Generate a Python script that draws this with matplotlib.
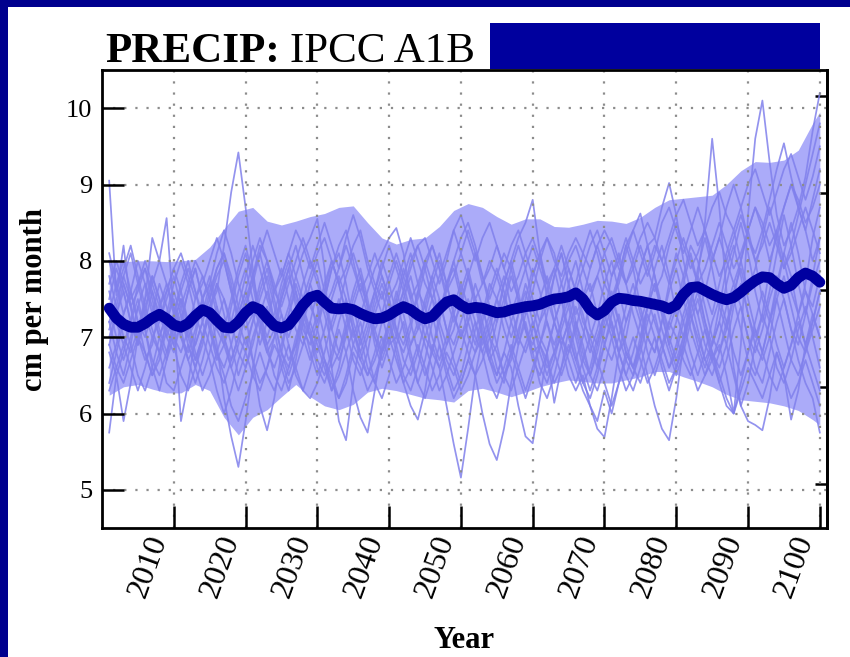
import numpy as np
import matplotlib
matplotlib.use("Agg")
import matplotlib.pyplot as plt
from matplotlib.patches import Rectangle
from matplotlib import transforms

plt.rcParams["font.family"] = ["Liberation Serif", "DejaVu Serif"]

# ---------------- data ----------------
years = np.arange(2001, 2101)

ensemble_mean = [
    7.38, 7.25, 7.17, 7.13, 7.13, 7.18, 7.25, 7.30, 7.24, 7.16,
    7.13, 7.18, 7.28, 7.36, 7.32, 7.22, 7.13, 7.12, 7.20, 7.32,
    7.40, 7.36, 7.25, 7.15, 7.12, 7.16, 7.28, 7.42, 7.52, 7.55,
    7.46, 7.38, 7.37, 7.38, 7.36, 7.31, 7.27, 7.24, 7.25, 7.29,
    7.35, 7.40, 7.36, 7.29, 7.24, 7.27, 7.37, 7.46, 7.49, 7.42,
    7.37, 7.39, 7.38, 7.35, 7.32, 7.33, 7.36, 7.38, 7.40, 7.41,
    7.43, 7.47, 7.50, 7.51, 7.53, 7.58, 7.50, 7.36, 7.29, 7.35,
    7.46, 7.51, 7.50, 7.48, 7.47, 7.45, 7.43, 7.41, 7.37, 7.42,
    7.56, 7.65, 7.66, 7.61, 7.56, 7.52, 7.49, 7.52, 7.59, 7.67,
    7.74, 7.79, 7.78, 7.70, 7.64, 7.68, 7.78, 7.84, 7.80, 7.72,
]

band_years = list(range(2001, 2100, 2)) + [2100]
band_upper = [
    7.98, 7.99, 8.00, 8.00, 7.99, 8.00, 8.02, 8.18, 8.42, 8.65,
    8.70, 8.52, 8.47, 8.52, 8.58, 8.62, 8.70, 8.72, 8.50, 8.30,
    8.22, 8.28, 8.30, 8.45, 8.66, 8.75, 8.70, 8.58, 8.48, 8.55,
    8.55, 8.45, 8.44, 8.48, 8.53, 8.52, 8.49, 8.57, 8.70, 8.80,
    8.82, 8.84, 8.86, 9.00, 9.18, 9.30, 9.29, 9.32, 9.45, 9.80,
    9.95,
]
band_lower = [
    6.24, 6.35, 6.38, 6.32, 6.27, 6.27, 6.38, 6.30, 5.95, 5.72,
    5.95, 6.05, 6.22, 6.38, 6.22, 6.10, 6.05, 6.12, 6.28, 6.33,
    6.30, 6.25, 6.20, 6.18, 6.15, 6.30, 6.33, 6.28, 6.22, 6.28,
    6.35, 6.40, 6.44, 6.42, 6.40, 6.40, 6.44, 6.48, 6.55, 6.55,
    6.48, 6.42, 6.35, 6.25, 6.18, 6.16, 6.14, 6.10, 6.04, 5.92,
    5.85,
]

member_01 = [
    9.05, 7.55, 8.20, 7.40, 6.90, 7.30, 7.80, 7.50, 7.00, 6.80,
    7.20, 7.60, 7.90, 7.50, 7.10, 6.70, 6.90, 7.40, 7.80, 8.10,
    7.70, 7.20, 6.90, 7.10, 7.60, 7.90, 7.40, 7.00, 6.70, 7.10,
    7.50, 7.90, 8.10, 7.70, 7.20, 6.90, 7.20, 7.60, 7.30, 6.90,
    7.00, 7.50, 7.80, 7.40, 7.00, 6.80, 7.20, 7.70, 8.00, 7.60,
    7.20, 6.90, 7.30, 7.70, 7.50, 7.10, 6.80, 7.00, 7.50, 7.90,
    7.60, 7.20, 6.90, 7.20, 7.70, 8.00, 7.60, 7.10, 6.90, 7.30,
    7.80, 8.10, 7.70, 7.30, 7.00, 7.40, 7.90, 8.20, 7.80, 7.30,
    7.00, 7.40, 7.90, 8.30, 7.90, 7.40, 7.10, 7.50, 8.00, 8.40,
    8.00, 7.50, 7.20, 7.60, 8.10, 8.50, 8.10, 7.60, 7.40, 7.80,
]
member_02 = [
    5.75, 6.50, 5.90, 6.40, 7.00, 7.40, 7.10, 6.80, 7.20, 7.60,
    7.30, 6.90, 6.60, 6.90, 7.40, 7.70, 7.30, 6.90, 6.50, 6.80,
    7.20, 7.50, 7.80, 7.40, 7.00, 6.70, 6.90, 7.30, 7.70, 7.40,
    7.00, 6.60, 6.80, 7.20, 7.60, 7.90, 7.50, 7.00, 6.70, 7.00,
    7.40, 7.80, 8.10, 7.70, 7.20, 6.80, 6.60, 6.90, 7.30, 7.60,
    7.90, 7.50, 7.00, 6.70, 6.90, 7.40, 7.80, 7.50, 7.10, 6.80,
    6.90, 7.30, 7.80, 8.10, 7.70, 7.20, 6.80, 6.50, 6.80, 7.20,
    7.50, 7.20, 6.80, 6.60, 6.90, 7.40, 7.70, 7.40, 7.00, 6.70,
    7.00, 7.50, 7.80, 7.40, 7.00, 6.80, 7.10, 7.60, 7.90, 7.50,
    7.10, 6.80, 7.20, 7.70, 8.10, 7.80, 7.30, 6.90, 7.20, 7.60,
]
member_03 = [
    7.00, 7.30, 7.60, 7.20, 6.90, 7.50, 8.30, 8.00, 8.56, 7.30,
    5.90, 6.40, 7.00, 7.50, 7.80, 7.40, 7.00, 6.70, 7.00, 7.40,
    7.80, 8.10, 7.70, 7.20, 6.80, 6.50, 6.80, 7.30, 7.70, 8.00,
    7.60, 7.10, 6.80, 7.10, 7.50, 7.80, 7.40, 6.90, 6.60, 6.90,
    7.30, 7.60, 7.20, 6.80, 6.50, 6.80, 7.30, 7.70, 7.90, 7.50,
    7.00, 6.80, 7.20, 7.60, 7.90, 7.60, 7.20, 6.90, 7.30, 7.80,
    8.10, 7.70, 7.20, 6.90, 7.20, 7.60, 7.30, 6.90, 6.60, 6.90,
    7.30, 7.80, 8.20, 7.90, 7.40, 7.00, 6.80, 7.20, 7.70, 8.10,
    7.80, 7.30, 6.90, 6.60, 6.90, 7.40, 7.90, 8.20, 7.80, 7.30,
    7.00, 7.30, 7.90, 8.40, 8.00, 7.60, 7.30, 7.70, 8.30, 8.70,
]
member_04 = [
    7.60, 7.20, 6.90, 7.20, 7.70, 7.90, 7.50, 7.10, 6.80, 7.10,
    7.40, 7.00, 6.70, 7.00, 7.40, 7.60, 8.20, 8.90, 9.42, 8.70,
    7.90, 7.20, 6.80, 7.00, 7.50, 7.80, 7.50, 7.10, 6.90, 7.20,
    7.60, 8.00, 7.70, 7.30, 6.90, 6.70, 7.00, 7.40, 7.70, 7.40,
    7.00, 6.80, 7.10, 7.60, 8.00, 7.70, 7.20, 6.90, 7.10, 7.50,
    7.80, 7.40, 7.00, 6.80, 7.20, 7.70, 8.00, 7.60, 7.10, 6.90,
    7.20, 7.60, 7.90, 7.50, 7.00, 6.70, 7.00, 7.50, 7.80, 7.50,
    7.10, 6.80, 7.00, 7.50, 7.90, 8.20, 7.80, 7.30, 6.90, 7.20,
    7.70, 8.10, 7.70, 7.20, 6.90, 7.20, 7.70, 8.10, 8.50, 8.10,
    7.60, 7.20, 7.60, 8.10, 8.60, 8.20, 7.70, 7.30, 7.80, 8.30,
]
member_05 = [
    7.20, 6.80, 6.50, 6.90, 7.40, 7.10, 6.60, 6.30, 6.70, 7.20,
    7.50, 7.10, 6.70, 7.00, 7.40, 6.90, 6.20, 5.70, 5.30, 5.90,
    6.60, 7.10, 7.40, 7.10, 6.60, 6.30, 6.70, 7.20, 7.50, 7.10,
    6.70, 6.30, 6.60, 7.10, 7.40, 7.00, 6.60, 6.40, 6.80, 7.20,
    7.50, 7.10, 6.70, 6.40, 6.70, 7.20, 7.50, 7.10, 6.70, 6.40,
    6.70, 7.10, 7.40, 7.00, 6.60, 6.40, 6.80, 7.30, 7.60, 7.20,
    6.80, 6.50, 6.80, 7.20, 7.50, 7.10, 6.70, 6.50, 6.90, 7.30,
    7.60, 7.20, 6.80, 6.60, 7.00, 7.40, 7.70, 7.30, 6.90, 6.60,
    6.90, 7.30, 7.60, 7.20, 6.80, 6.60, 6.90, 7.40, 7.70, 7.30,
    6.90, 6.70, 7.00, 7.50, 7.80, 7.40, 7.00, 6.80, 7.20, 7.60,
]
member_06 = [
    6.90, 7.30, 7.70, 7.40, 7.00, 6.70, 6.90, 7.40, 7.70, 7.40,
    7.00, 6.80, 7.10, 7.50, 7.70, 7.30, 6.90, 6.60, 6.90, 7.30,
    6.70, 6.10, 5.78, 6.20, 6.80, 7.30, 7.60, 7.20, 6.80, 6.50,
    6.80, 7.20, 7.50, 7.10, 6.70, 6.50, 6.80, 7.30, 7.60, 7.20,
    6.80, 6.40, 6.10, 5.92, 6.30, 6.90, 6.60, 6.10, 5.60, 5.16,
    5.80, 6.50, 7.00, 7.30, 6.90, 6.50, 6.70, 7.10, 7.40, 7.00,
    6.60, 6.40, 6.70, 7.10, 7.40, 7.00, 6.60, 6.30, 6.60, 7.10,
    7.40, 7.00, 6.70, 6.50, 6.80, 7.20, 7.50, 7.10, 6.80, 6.50,
    6.80, 7.20, 7.50, 7.10, 6.70, 6.40, 6.70, 7.10, 7.40, 7.00,
    6.60, 6.40, 6.80, 7.20, 7.50, 7.10, 6.70, 6.40, 6.20, 5.75,
]
member_07 = [
    7.50, 7.90, 7.60, 7.20, 6.90, 7.20, 7.60, 7.30, 7.00, 7.30,
    7.70, 8.00, 7.60, 7.20, 7.50, 7.90, 8.10, 7.70, 7.20, 6.90,
    7.20, 7.60, 7.90, 7.50, 7.10, 7.40, 7.80, 8.10, 8.30, 8.55,
    7.90, 6.60, 5.90, 5.65, 6.40, 7.00, 7.40, 7.10, 6.80, 7.10,
    7.50, 7.90, 7.60, 7.20, 7.40, 7.80, 8.10, 7.70, 7.30, 7.00,
    7.30, 7.70, 7.40, 7.00, 7.30, 7.70, 8.00, 8.30, 8.50, 8.80,
    8.10, 7.50, 7.20, 7.50, 7.90, 7.60, 7.20, 7.00, 7.30, 7.70,
    8.00, 7.60, 7.20, 7.50, 7.90, 8.20, 7.80, 7.40, 7.10, 7.40,
    7.80, 8.20, 8.00, 7.60, 7.30, 7.70, 8.10, 8.40, 8.00, 7.60,
    7.90, 8.30, 8.70, 8.30, 7.90, 8.20, 8.60, 9.00, 9.40, 9.80,
]
member_08 = [
    6.60, 6.90, 7.30, 7.60, 7.20, 6.80, 6.50, 6.80, 7.20, 7.50,
    7.10, 6.70, 6.40, 6.70, 7.10, 7.40, 7.00, 6.60, 6.30, 6.60,
    7.00, 7.30, 6.90, 6.50, 6.30, 6.60, 7.00, 7.30, 7.00, 6.60,
    6.40, 6.70, 7.10, 6.80, 6.30, 5.95, 5.75, 6.30, 6.90, 7.20,
    6.90, 6.50, 6.30, 6.60, 7.00, 7.30, 6.90, 6.50, 6.20, 6.40,
    6.70, 6.50, 6.00, 5.60, 5.39, 5.80, 6.40, 6.90, 7.20, 6.80,
    6.40, 6.20, 6.50, 6.90, 7.20, 6.80, 6.40, 6.20, 6.50, 6.90,
    7.20, 6.80, 6.50, 6.30, 6.60, 7.00, 7.30, 6.90, 6.60, 6.80,
    7.20, 7.50, 7.10, 6.70, 6.50, 6.80, 7.20, 7.50, 7.10, 6.70,
    6.50, 6.80, 7.20, 7.50, 7.10, 6.70, 6.50, 6.80, 7.10, 7.40,
]
member_09 = [
    7.80, 7.40, 7.00, 6.80, 7.10, 7.50, 7.80, 7.50, 7.10, 6.90,
    7.20, 7.60, 7.90, 7.50, 7.10, 6.80, 7.10, 7.50, 7.90, 8.20,
    7.80, 7.30, 7.00, 7.30, 7.70, 8.00, 7.60, 7.20, 7.00, 7.30,
    7.70, 8.00, 7.70, 7.30, 7.00, 7.30, 7.60, 7.90, 8.10, 8.30,
    8.43, 8.10, 7.50, 7.10, 7.30, 7.70, 8.00, 7.70, 7.30, 7.00,
    7.20, 7.50, 7.20, 6.80, 6.50, 6.80, 6.60, 6.10, 5.70, 5.61,
    6.20, 6.80, 7.20, 6.90, 6.50, 6.30, 6.50, 6.10, 5.80, 5.69,
    6.20, 6.80, 7.20, 7.50, 7.20, 6.80, 6.50, 6.80, 7.20, 7.50,
    7.20, 6.80, 6.50, 6.80, 7.20, 7.50, 7.20, 6.80, 6.50, 6.80,
    7.20, 7.60, 7.30, 6.90, 6.60, 6.90, 7.30, 7.60, 7.30, 7.00,
]
member_10 = [
    7.10, 7.40, 7.80, 8.10, 7.70, 7.30, 7.00, 7.20, 7.60, 7.90,
    7.60, 7.20, 6.90, 7.20, 7.60, 7.90, 8.10, 7.80, 7.40, 7.10,
    7.30, 7.70, 8.00, 7.70, 7.30, 7.00, 7.30, 7.70, 8.00, 7.80,
    7.40, 7.10, 7.40, 7.80, 8.10, 7.80, 7.40, 7.10, 7.30, 7.70,
    8.00, 7.70, 7.30, 7.50, 7.90, 8.20, 7.90, 7.50, 7.20, 7.40,
    7.80, 8.10, 7.80, 7.40, 7.20, 7.50, 7.90, 8.20, 7.90, 7.50,
    7.20, 7.40, 7.80, 8.10, 7.70, 7.30, 7.50, 7.90, 8.20, 7.90,
    7.50, 7.70, 8.10, 8.40, 8.62, 8.20, 8.30, 8.70, 9.02, 8.60,
    8.00, 7.60, 7.30, 7.60, 8.00, 8.30, 8.00, 7.70, 8.00, 8.40,
    8.70, 8.40, 8.00, 8.30, 8.70, 9.00, 8.70, 8.40, 8.80, 9.20,
]
member_11 = [
    6.80, 6.50, 6.80, 7.20, 7.50, 7.10, 6.70, 6.50, 6.80, 7.20,
    7.50, 7.20, 6.80, 6.50, 6.80, 7.20, 7.50, 7.20, 6.80, 6.60,
    6.90, 7.30, 7.60, 7.20, 6.80, 6.60, 6.90, 7.40, 7.10, 6.70,
    6.50, 6.80, 7.20, 7.50, 7.10, 6.70, 6.50, 6.80, 7.20, 7.50,
    7.10, 6.70, 6.50, 6.80, 7.20, 7.50, 7.10, 6.70, 6.50, 6.80,
    7.20, 7.50, 7.10, 6.70, 6.50, 6.80, 7.20, 7.50, 7.10, 6.70,
    6.50, 6.80, 7.20, 7.50, 7.10, 6.70, 6.40, 6.60, 7.00, 7.30,
    7.00, 6.60, 6.30, 6.50, 6.90, 6.50, 6.10, 5.80, 5.65, 6.20,
    6.90, 7.40, 7.80, 8.50, 9.60, 8.70, 7.60, 6.60, 6.10, 6.40,
    6.90, 7.30, 7.00, 6.60, 6.40, 6.70, 7.10, 7.40, 7.00, 6.60,
]
member_12 = [
    7.30, 7.70, 8.00, 7.60, 7.20, 7.00, 7.30, 7.70, 7.40, 7.00,
    6.80, 7.10, 7.50, 7.80, 7.50, 7.10, 6.90, 7.20, 7.60, 7.90,
    7.50, 7.10, 6.80, 6.60, 6.90, 7.30, 7.70, 7.40, 7.00, 6.80,
    7.10, 7.50, 7.80, 7.50, 7.10, 6.80, 7.10, 7.50, 7.80, 7.50,
    7.10, 6.90, 7.20, 7.60, 7.40, 7.00, 6.70, 7.00, 7.40, 7.70,
    7.40, 7.00, 6.80, 7.10, 7.50, 7.80, 7.40, 7.00, 6.80, 7.10,
    7.50, 7.80, 7.40, 7.00, 6.80, 7.10, 7.50, 7.70, 7.30, 6.90,
    6.70, 7.00, 7.40, 7.70, 7.30, 7.00, 6.80, 7.20, 7.60, 7.90,
    7.50, 7.10, 6.80, 6.50, 6.70, 6.90, 6.50, 6.00, 6.90, 8.60,
    9.60, 10.10, 9.30, 8.60, 8.20, 8.40, 8.70, 8.40, 8.00, 8.30,
]
member_13 = [
    6.40, 6.80, 7.20, 6.90, 6.50, 6.30, 6.60, 7.00, 7.30, 6.90,
    6.50, 6.30, 6.60, 7.00, 6.70, 6.30, 6.00, 6.30, 6.70, 7.00,
    6.70, 6.40, 6.60, 7.00, 7.30, 6.90, 6.50, 6.30, 6.60, 7.00,
    6.70, 6.40, 6.20, 6.50, 6.90, 7.20, 6.80, 6.40, 6.20, 6.50,
    6.90, 7.20, 6.80, 6.40, 6.20, 6.50, 6.90, 6.60, 6.30, 6.50,
    6.90, 7.20, 6.80, 6.40, 6.20, 6.50, 6.80, 6.50, 6.20, 6.50,
    6.90, 7.20, 6.80, 6.50, 6.80, 7.20, 6.90, 6.50, 6.30, 6.60,
    7.00, 7.30, 6.90, 6.60, 6.90, 7.30, 7.00, 6.60, 6.30, 6.60,
    7.00, 7.30, 7.00, 6.70, 6.90, 7.20, 6.90, 6.50, 6.10, 5.90,
    5.85, 5.78, 6.20, 6.80, 6.50, 5.92, 6.30, 6.90, 7.30, 7.00,
]
member_14 = [
    8.10, 7.70, 7.30, 7.60, 8.00, 7.70, 7.30, 7.00, 7.30, 7.70,
    8.00, 7.70, 7.30, 7.00, 7.30, 7.70, 7.50, 7.10, 7.40, 7.80,
    8.20, 7.90, 7.50, 7.20, 7.50, 7.90, 8.20, 7.80, 7.40, 7.20,
    7.50, 7.90, 8.20, 8.40, 8.00, 7.60, 7.30, 7.60, 8.00, 7.70,
    7.30, 7.60, 8.00, 8.20, 7.90, 7.50, 7.30, 7.60, 8.00, 8.30,
    8.50, 8.20, 7.80, 7.50, 7.80, 8.10, 7.90, 7.50, 7.30, 7.60,
    8.00, 8.30, 8.10, 7.70, 7.40, 7.70, 8.10, 8.40, 8.10, 7.70,
    7.50, 7.80, 8.20, 8.40, 8.10, 7.80, 8.10, 8.50, 8.70, 8.40,
    8.10, 8.40, 8.70, 8.40, 8.00, 8.30, 8.70, 9.00, 8.70, 8.30,
    8.10, 8.40, 8.80, 9.20, 9.54, 9.10, 8.70, 9.10, 9.70, 10.20,
]
member_15 = [
    7.40, 7.00, 6.70, 7.00, 7.40, 7.70, 7.40, 7.00, 6.70, 7.00,
    7.30, 7.00, 7.20, 7.50, 7.20, 6.80, 6.60, 6.90, 7.30, 7.60,
    7.30, 6.90, 7.20, 7.60, 7.90, 7.50, 7.10, 6.90, 7.20, 7.60,
    7.30, 6.90, 6.70, 7.00, 7.40, 7.70, 7.40, 7.00, 6.80, 7.20,
    7.60, 7.30, 6.90, 7.10, 7.50, 7.80, 7.50, 7.10, 6.90, 7.20,
    7.50, 7.20, 6.90, 7.20, 7.50, 7.30, 7.00, 7.30, 7.70, 7.40,
    7.00, 6.80, 6.14, 6.60, 7.10, 7.40, 7.10, 6.80, 7.10, 7.50,
    7.20, 6.80, 6.50, 6.80, 7.20, 7.50, 7.20, 6.90, 6.60, 6.90,
    7.30, 7.60, 7.30, 6.90, 6.70, 7.00, 7.40, 7.70, 7.40, 7.00,
    6.80, 7.10, 7.50, 7.80, 7.50, 7.10, 6.90, 7.30, 7.70, 8.00,
]
member_16 = [
    7.70, 8.00, 7.70, 7.40, 7.60, 7.90, 7.60, 7.20, 7.50, 7.80,
    7.40, 7.70, 8.00, 7.80, 7.50, 7.80, 8.00, 7.60, 7.20, 7.50,
    7.80, 8.20, 8.00, 7.60, 7.80, 8.10, 7.80, 7.50, 7.80, 8.10,
    8.30, 8.00, 7.70, 7.90, 8.20, 8.40, 8.00, 7.70, 7.50, 7.80,
    8.10, 7.80, 7.50, 7.70, 8.00, 8.20, 7.90, 7.60, 7.80, 8.10,
    8.40, 8.10, 7.70, 7.90, 8.20, 7.90, 7.60, 7.80, 8.10, 8.30,
    8.00, 7.70, 7.90, 8.20, 7.90, 7.60, 7.90, 8.20, 8.40, 8.10,
    7.80, 8.00, 8.30, 8.00, 7.70, 7.90, 8.20, 8.00, 7.70, 8.00,
    8.30, 8.00, 7.70, 7.90, 8.20, 8.50, 8.20, 7.90, 8.10, 8.40,
    8.70, 8.50, 8.20, 8.40, 8.70, 9.00, 8.80, 8.50, 8.70, 9.00,
]
member_17 = [
    8.00, 7.60, 7.90, 8.20, 7.80, 7.40, 7.70, 8.00, 7.70, 7.30,
    7.60, 7.90, 7.60, 7.30, 7.70, 8.10, 8.40, 8.10, 7.70, 7.40,
    7.70, 8.10, 8.40, 8.10, 7.80, 8.10, 8.40, 8.20, 7.90, 8.20,
    8.50, 8.20, 7.90, 8.30, 8.60, 8.30, 7.90, 7.60, 7.90, 8.20,
    7.90, 7.60, 7.90, 8.20, 8.30, 8.00, 7.70, 8.00, 8.40, 8.60,
    8.30, 8.00, 8.30, 8.50, 8.20, 7.90, 8.20, 8.40, 8.10, 7.80,
    8.10, 8.30, 8.00, 7.80, 8.10, 8.30, 8.10, 7.90, 8.20, 8.40,
    8.20, 7.90, 7.70, 8.00, 8.30, 8.50, 8.30, 8.00, 8.30, 8.60,
    8.80, 8.50, 8.20, 8.40, 8.70, 8.90, 8.60, 8.40, 8.70, 9.00,
    9.20, 8.90, 8.60, 8.90, 9.20, 9.40, 9.10, 8.80, 9.10, 9.50,
]
member_18 = [
    6.30, 6.60, 6.90, 6.60, 6.30, 6.60, 7.00, 6.80, 6.40, 6.30,
    6.60, 6.90, 6.60, 6.30, 6.50, 6.80, 6.50, 6.10, 5.90, 6.20,
    6.50, 6.80, 6.50, 6.30, 6.60, 6.90, 6.60, 6.30, 6.20, 6.40,
    6.70, 6.50, 6.20, 6.40, 6.80, 6.60, 6.30, 6.50, 6.80, 7.00,
    6.70, 6.40, 6.60, 6.90, 6.60, 6.30, 6.50, 6.80, 6.60, 6.30,
    6.50, 6.80, 7.00, 6.70, 6.40, 6.60, 6.90, 6.60, 6.30, 6.60,
    6.90, 6.70, 6.40, 6.60, 6.90, 6.60, 6.30, 6.10, 5.90, 6.30,
    6.00, 6.40, 6.80, 6.60, 6.40, 6.70, 7.00, 6.70, 6.40, 6.60,
    6.90, 6.60, 6.30, 6.50, 6.80, 6.50, 6.20, 6.00, 6.30, 6.60,
    6.40, 6.20, 6.50, 6.80, 6.50, 6.20, 6.40, 6.70, 6.40, 6.10,
]
member_19 = [
    7.20, 7.50, 7.80, 7.50, 7.70, 8.00, 7.70, 7.40, 7.60, 7.90,
    8.10, 7.80, 7.50, 7.70, 8.00, 8.30, 8.00, 7.60, 7.30, 7.60,
    8.00, 8.30, 8.00, 7.60, 7.40, 7.70, 8.00, 8.30, 8.00, 7.70,
    7.40, 7.60, 7.90, 8.20, 7.90, 7.60, 7.80, 8.10, 7.80, 7.50,
    7.70, 8.00, 8.30, 8.00, 7.70, 7.50, 7.80, 8.10, 8.40, 8.10,
    7.80, 7.50, 7.70, 8.00, 7.80, 7.50, 7.30, 7.60, 7.90, 8.20,
    7.90, 7.60, 7.40, 7.70, 8.00, 8.20, 7.90, 7.60, 7.80, 8.10,
    8.30, 8.00, 7.70, 7.90, 8.20, 7.90, 7.60, 7.80, 8.20, 8.50,
    8.20, 7.90, 8.10, 8.40, 8.10, 7.80, 8.00, 8.30, 8.60, 8.30,
    8.00, 8.20, 8.50, 8.20, 7.90, 8.10, 8.40, 8.70, 8.40, 8.10,
]
member_20 = [
    6.90, 6.60, 6.40, 6.70, 7.00, 6.80, 6.50, 6.70, 7.10, 7.30,
    7.00, 6.70, 6.90, 7.20, 6.90, 6.60, 6.40, 6.70, 7.00, 6.80,
    6.50, 6.30, 6.60, 6.90, 6.70, 6.40, 6.60, 6.90, 7.20, 6.90,
    6.60, 6.30, 6.50, 6.80, 7.10, 6.80, 6.50, 6.70, 7.00, 6.70,
    6.40, 6.60, 6.90, 7.20, 6.90, 6.60, 6.30, 6.50, 6.80, 7.10,
    6.80, 6.50, 6.70, 7.00, 6.80, 6.50, 6.30, 6.60, 6.90, 7.20,
    6.90, 6.60, 6.80, 7.00, 6.70, 6.40, 6.70, 7.00, 6.70, 6.40,
    6.10, 6.40, 6.70, 7.00, 6.70, 6.40, 6.60, 6.90, 7.20, 7.00,
    6.70, 6.50, 6.80, 7.10, 6.80, 6.40, 6.10, 6.00, 6.40, 6.80,
    7.10, 6.80, 6.50, 6.30, 6.60, 6.90, 7.20, 6.90, 6.60, 6.30,
]
members = [member_01, member_02, member_03, member_04, member_05,
           member_06, member_07, member_08, member_09, member_10,
           member_11, member_12, member_13, member_14, member_15,
           member_16, member_17, member_18, member_19, member_20]

x_ticks = [2010, 2020, 2030, 2040, 2050, 2060, 2070, 2080, 2090, 2100]
y_ticks = [5, 6, 7, 8, 9, 10]
inch_ticks = [2.0, 2.5, 3.0, 3.5, 4.0]
CM_PER_INCH = 2.54

# ---------------- figure ----------------
W, H = 850, 657
fig = plt.figure(figsize=(W / 100, H / 100), dpi=100, facecolor="#00008e")

# white slide panel behind everything
fig.patches.append(Rectangle((8 / W, 0), 1 - 8 / W, (H - 7) / H,
                             transform=fig.transFigure, facecolor="white",
                             edgecolor="none", zorder=-10))

ax = fig.add_axes([102 / W, (H - 528) / H, (827 - 102) / W, (528 - 70) / H])
ax.set_facecolor("white")

ax.fill_between(band_years, band_lower, band_upper, color="#ababf9",
                linewidth=0, zorder=1)
for m in members:
    ax.plot(years, m, color="#8080ec", lw=1.25, alpha=0.85, zorder=2,
            solid_joinstyle="round")
ax.plot(years, ensemble_mean, color="#0000a0", lw=7.8, zorder=3,
        solid_capstyle="round", solid_joinstyle="round")

ax.set_xlim(2000, 2101)
ax.set_ylim(4.5, 10.5)
ax.set_xticks(x_ticks)
ax.set_yticks(y_ticks)
ax.set_axisbelow(False)
ax.grid(True, color="#8c8c8c", linestyle=(0, (1, 4)), linewidth=1.6)

for s in ax.spines.values():
    s.set_linewidth(2.0)
    s.set_zorder(4)

ax.tick_params(axis="both", direction="in", length=16, width=1.8,
               colors="black")
ax.tick_params(axis="y", pad=7, labelsize=19)
ax.tick_params(axis="x", pad=6, labelsize=23)

for lab in ax.get_xticklabels():
    lab.set_rotation(70)
    lab.set_rotation_mode("anchor")
    lab.set_ha("right")
    lab.set_va("center")
    lab.set_transform(lab.get_transform() +
                      transforms.ScaledTranslation(-14 / 100, 0, fig.dpi_scale_trans))

# right axis in inches per month (ticks only)
sec = ax.secondary_yaxis("right", functions=(lambda v: v / CM_PER_INCH,
                                             lambda v: v * CM_PER_INCH))
sec.set_yticks(inch_ticks)
sec.tick_params(direction="in", length=9, width=1.8, labelright=False)
sec.spines["right"].set_linewidth(2.0)

ax.set_ylabel("cm per month", fontsize=22, fontweight="bold", labelpad=12)
ax.set_xlabel("Year", fontsize=22, fontweight="bold", labelpad=18)

# title
fig.text(105 / W, (H - 62) / H, "PRECIP:", fontsize=31, fontweight="bold",
         ha="left", va="baseline")
fig.text(290 / W, (H - 62) / H, "IPCC A1B", fontsize=31,
         ha="left", va="baseline")
fig.patches.append(Rectangle((490 / W, (H - 69) / H), 330 / W, 46 / H,
                             transform=fig.transFigure, facecolor="#00009e",
                             edgecolor="none", zorder=5))

fig.savefig("out.png", dpi=100, facecolor=fig.get_facecolor())
